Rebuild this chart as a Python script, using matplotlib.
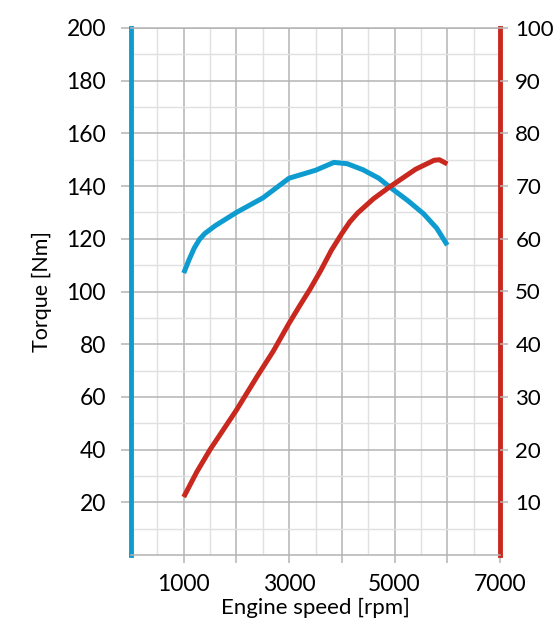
import matplotlib
matplotlib.use("Agg")
import matplotlib.pyplot as plt
from matplotlib.ticker import MultipleLocator

# Data
rpm_torque = [1000, 1100, 1200, 1300, 1400, 1600, 2000, 2500, 3000, 3500, 3850,
              4100, 4400, 4700, 4950, 5250, 5550, 5800, 6000]
torque_nm = [107, 112, 116.5, 119.8, 122, 125, 130, 135.5, 143, 146, 149,
             148.5, 146.2, 143, 139, 134.5, 129.5, 124, 117.6]
rpm_power = [1000, 1250, 1500, 2000, 2400, 2700, 3000, 3200, 3400, 3600, 3800,
             4000, 4150, 4300, 4600, 4900, 5400, 5750, 5850, 6000]
power_kw = [11, 15.8, 20, 27.5, 34, 38.7, 44, 47.3, 50.5, 54, 57.8,
            61, 63.2, 64.9, 67.6, 69.8, 73.2, 74.9, 75, 74.2]
x_ticks = [1000, 3000, 5000, 7000]
left_ticks = [20, 40, 60, 80, 100, 120, 140, 160, 180, 200]
right_ticks = [10, 20, 30, 40, 50, 60, 70, 80, 90, 100]

BLUE = "#0d9bd0"
RED = "#c9281f"
GRID_MAJ = "#b4b4b4"
plt.rcParams['font.family'] = ['Lato', 'DejaVu Sans']

fig = plt.figure(figsize=(5.58, 6.28), dpi=100)
ax = fig.add_axes([131/558, 1-555/628, 369/558, 527/628])
ax.set_xlim(0, 7000)
ax.set_ylim(0, 200)

ax.xaxis.set_minor_locator(MultipleLocator(500))
ax.yaxis.set_minor_locator(MultipleLocator(10))
ax.grid(which='major', color=GRID_MAJ, lw=1.1)
ax.grid(which='minor', color='#e0e0e0', lw=1.0)
ax.set_axisbelow(True)

major_x = [1000, 2000, 3000, 4000, 5000, 6000, 7000]
ax.set_xticks(major_x)
ax.set_xticklabels([str(v) if v in x_ticks else '' for v in major_x])
ax.set_yticks(left_ticks)
ax.set_yticklabels([str(v) for v in left_ticks])
ax.tick_params(axis='both', which='major', colors=GRID_MAJ, labelcolor='black',
               labelsize=16.5, length=7, width=1.1)
ax.tick_params(axis='y', which='major', pad=11)
ax.tick_params(axis='x', which='major', pad=8, length=6)
ax.tick_params(which='minor', length=0)

for s in ['top', 'bottom']:
    ax.spines[s].set_color(GRID_MAJ)
    ax.spines[s].set_linewidth(1.1)
ax.spines['left'].set_color(BLUE)
ax.spines['left'].set_linewidth(3.5)
ax.spines['right'].set_color(RED)
ax.spines['right'].set_linewidth(3.5)

ax.plot(rpm_torque, torque_nm, color=BLUE, lw=3.6, solid_capstyle='butt',
        solid_joinstyle='round', zorder=3)

ax2 = ax.twinx()
ax2.set_ylim(0, 100)
ax2.set_yticks(right_ticks)
ax2.set_yticklabels([str(v) for v in right_ticks])
ax2.tick_params(axis='y', colors=GRID_MAJ, labelcolor='black', labelsize=16,
                length=6, width=1.1, pad=5)
for s in ax2.spines.values():
    s.set_visible(False)
ax2.plot(rpm_power, power_kw, color=RED, lw=3.6, solid_capstyle='butt',
         solid_joinstyle='round', zorder=3)

ax.set_xlabel('Engine speed [rpm]', fontsize=16, labelpad=2)
ax.set_ylabel('Torque [Nm]', fontsize=15.5, labelpad=10)

fig.savefig('out.png', dpi=100)
